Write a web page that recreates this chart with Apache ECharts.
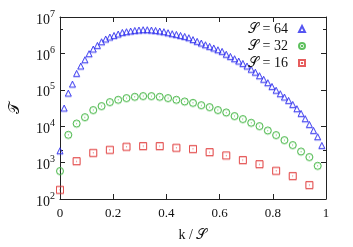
<!DOCTYPE html>
<html>
<head>
<meta charset="utf-8">
<script src="https://cdn.jsdelivr.net/npm/echarts@6/dist/echarts.min.js"></script>
<style>html,body{margin:0;padding:0;background:#fff}#c{width:353px;height:247px}</style>
</head>
<body>
<div id="c"></div>
<script>
// ---- data ----
var seriesNames = ['𝒮 = 64', '𝒮 = 32', '𝒮 = 16'];
var systemSizes = [64, 32, 16];
var xTickLabels = ['0', '0.2', '0.4', '0.6', '0.8', '1'];
var yTickExponents = [2, 3, 4, 5, 6, 7];

var valuesS64 = [2120, 31600, 81300, 144000, 283000, 451000, 671000, 982000,
  1320000, 1660000, 2090000, 2490000, 2820000, 3120000, 3410000, 3780000,
  3950000, 4120000, 4280000, 4390000, 4480000, 4480000, 4390000, 4280000,
  4120000, 3950000, 3700000, 3480000, 3330000, 3120000, 2930000, 2700000,
  2400000, 2150000, 1930000, 1730000, 1560000, 1410000, 1260000, 1140000,
  950000, 827000, 715000, 618000, 531000, 451000, 368000, 305000,
  244000, 195000, 157000, 124000, 97500, 78200, 63400, 51200,
  39700, 30300, 22500, 16100, 11200, 7670, 5150, 2970];
var valuesS32 = [590, 5830, 11900, 17800, 27900, 35900, 46200, 53500,
  59500, 64600, 67600, 67500, 64500, 59500, 53500, 48000,
  44000, 38000, 33600, 27900, 24000, 19100, 15800, 12500,
  10100, 7670, 5730, 4170, 3050, 2030, 1430, 820];
var valuesS16 = [180, 1100, 1860, 2260, 2740, 2860, 2860, 2570,
  2380, 1950, 1580, 1180, 910, 600, 430, 243];

// ---- build ----
var allValues = [valuesS64, valuesS32, valuesS16];
var colors = ['#2a2aee', '#36b036', '#e03535'];
var shadows = ['rgba(60,60,240,0.35)', 'rgba(60,180,60,0.35)', 'rgba(224,58,58,0.35)'];
var symbols = [
  'triangle',
  'path://M0,5 A5,5 0 1,1 10,5 A5,5 0 1,1 0,5 Z M4.85,4.85 L5.15,4.85 L5.15,5.15 L4.85,5.15 Z',
  'path://M0,0 L10,0 L10,10 L0,10 Z M4.85,4.85 L5.15,4.85 L5.15,5.15 L4.85,5.15 Z'
];
var symbolSizes = [6, 7, 7];
var serif = "'Liberation Serif', 'DejaVu Serif', 'Times New Roman', serif";

var series = allValues.map(function (vals, i) {
  var S = systemSizes[i];
  return {
    name: seriesNames[i],
    type: 'scatter',
    xAxisIndex: 0, yAxisIndex: 0,
    symbol: symbols[i],
    symbolSize: symbolSizes[i],
    itemStyle: {
      color: 'rgba(0,0,0,0)', borderColor: colors[i], borderWidth: 1,
      shadowColor: shadows[i], shadowBlur: 0, shadowOffsetY: 1
    },
    emphasis: { disabled: true },
    data: vals.map(function (v, k) { return [k / S, v]; })
  };
});

var axisLine = { show: true, onZero: false, lineStyle: { color: '#222', width: 1 } };
var majorTick = { show: true, inside: true, length: 5, lineStyle: { color: '#222' } };
var minorTickStyle = { show: true, inside: true, length: 3, lineStyle: { color: '#222' } };

function xAx(pos, labels) {
  return {
    type: 'value', min: 0, max: 1, interval: 0.2, position: pos,
    axisLine: axisLine, axisTick: majorTick, splitLine: { show: false },
    axisLabel: labels ? {
      show: true, color: '#111', fontFamily: serif, fontSize: 13, margin: 8,
      formatter: function (v) { return xTickLabels[Math.round(v / 0.2)]; }
    } : { show: false },
    name: labels ? 'k / 𝒮' : '', nameLocation: 'middle', nameGap: 29,
    nameTextStyle: { fontFamily: serif, fontSize: 14, color: '#111' }
  };
}
function yAx(pos, labels) {
  return {
    type: 'log', logBase: 10, min: 100, max: 1e7, position: pos,
    axisLine: axisLine, axisTick: majorTick, splitLine: { show: false },
    axisLabel: labels ? {
      show: true, color: '#111', margin: 5,
      formatter: function (v) {
        var e = Math.round(Math.log(v) / Math.LN10);
        return yTickExponents.indexOf(e) >= 0 ? '{b|10}{e|' + e + '}' : '';
      },
      rich: {
        b: { fontFamily: serif, fontSize: 14, color: '#111', padding: [6, 0, 0, 0] },
        e: { fontFamily: serif, fontSize: 10, color: '#111', padding: [0, 0, 6, 0] }
      }
    } : { show: false },
    name: labels ? '𝒯' : '', nameLocation: 'middle', nameGap: 37,
    nameTextStyle: { fontFamily: serif, fontSize: 15, color: '#111' }
  };
}
function yMinor(pos) {
  return {
    type: 'log', logBase: Math.pow(10, 1 / 3), min: 100, max: 1e7, position: pos,
    splitNumber: 15,
    axisLine: { show: false, onZero: false }, axisTick: minorTickStyle,
    axisLabel: { show: false }, splitLine: { show: false }
  };
}

var option = {
  animation: false,
  backgroundColor: '#fff',
  grid: { left: 54, right: 27, top: 17, bottom: 48, containLabel: false },
  legend: {
    orient: 'vertical', right: 47, top: 22, align: 'right', padding: 0,
    itemWidth: 6, itemHeight: 6, itemGap: 3,
    data: seriesNames,
    textStyle: { fontFamily: serif, fontSize: 14, color: '#111', padding: [0, 6, 0, 0] },
    selectedMode: false
  },
  xAxis: [xAx('bottom', true), xAx('top', false)],
  yAxis: [yAx('left', true), yAx('right', false), yMinor('left'), yMinor('right')],
  series: series
};

var chart = echarts.init(document.getElementById('c'), null, { renderer: 'canvas' });
chart.setOption(option);
</script>
</body>
</html>
